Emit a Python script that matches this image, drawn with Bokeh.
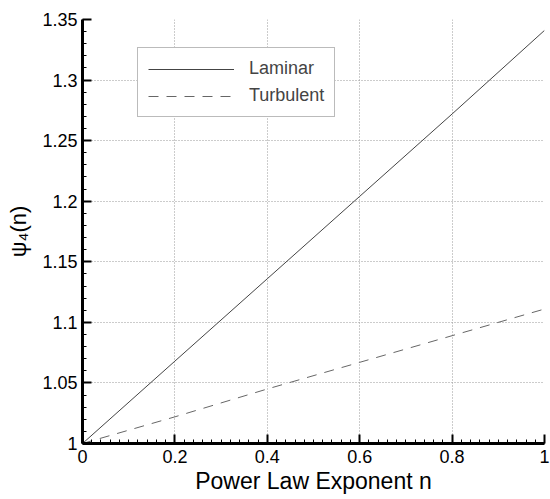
from bokeh.plotting import figure
from bokeh.models import Range1d, SingleIntervalTicker, CustomJSTickFormatter, Legend, LegendItem
from bokeh.embed import file_html
from bokeh.resources import INLINE

# data
n_values = [0.0, 0.2, 0.4, 0.6, 0.8, 1.0]
laminar = [1.000, 1.068, 1.136, 1.204, 1.272, 1.341]
turbulent = [1.000, 1.022, 1.045, 1.067, 1.089, 1.111]
x_label = "Power Law Exponent n"
y_label = "ψ₄(n)"
series_names = ["Laminar", "Turbulent"]

FONT = "Liberation Sans"

p = figure(width=550, height=499, output_backend="svg", toolbar_location=None,
           x_range=Range1d(0, 1), y_range=Range1d(1, 1.35),
           frame_width=462, frame_height=424,
           min_border_left=82, min_border_right=6, min_border_top=19, min_border_bottom=56)
p.outline_line_color = None
p.background_fill_color = "white"
p.border_fill_color = "white"

p.xaxis.ticker = SingleIntervalTicker(interval=0.2, num_minor_ticks=10)
p.yaxis.ticker = SingleIntervalTicker(interval=0.05, num_minor_ticks=5)
p.xgrid.ticker = p.xaxis.ticker
p.ygrid.ticker = p.yaxis.ticker

fmt = CustomJSTickFormatter(code="return Number(tick.toFixed(2)).toString();")
for ax in (p.xaxis[0], p.yaxis[0]):
    ax.formatter = fmt
    ax.axis_line_width = 3
    ax.axis_line_color = "black"
    ax.major_tick_in = 9
    ax.major_tick_out = 0
    ax.major_tick_line_width = 2
    ax.minor_tick_in = 4
    ax.minor_tick_out = 0
    ax.minor_tick_line_width = 1
    ax.major_label_text_font = FONT
    ax.major_label_text_font_size = "18px"
    ax.major_label_text_color = "black"
    ax.axis_label_text_font = FONT
    ax.axis_label_text_font_style = "normal"
    ax.axis_label_text_color = "black"
    ax.axis_label_text_font_size = "23px"

p.xaxis.major_label_standoff = 6
p.xaxis.axis_label_standoff = 2
p.yaxis.major_label_standoff = 5
p.yaxis.axis_label_standoff = 8
p.yaxis.axis_label_text_font_size = "22px"
p.xaxis.axis_label = x_label
p.yaxis.axis_label = y_label

for g in (p.xgrid[0], p.ygrid[0]):
    g.grid_line_color = "#999999"
    g.grid_line_dash = "1 2"
    g.grid_line_width = 1

r1 = p.line(n_values, laminar, line_color="#444444", line_width=1)
r2 = p.line(n_values, turbulent, line_color="#666666", line_width=1, line_dash="10 8")

legend = Legend(items=[LegendItem(label=series_names[0], renderers=[r1]),
                       LegendItem(label=series_names[1], renderers=[r2])],
                location=(55, 326), orientation="vertical",
                glyph_width=86, glyph_height=20, label_height=20, spacing=6,
                padding=10, margin=0, label_standoff=15,
                label_text_font=FONT, label_text_font_size="18px",
                border_line_color="#777777", border_line_width=1,
                background_fill_alpha=1.0)
p.add_layout(legend, "center")

open("out.html", "w").write(file_html(p, INLINE))
